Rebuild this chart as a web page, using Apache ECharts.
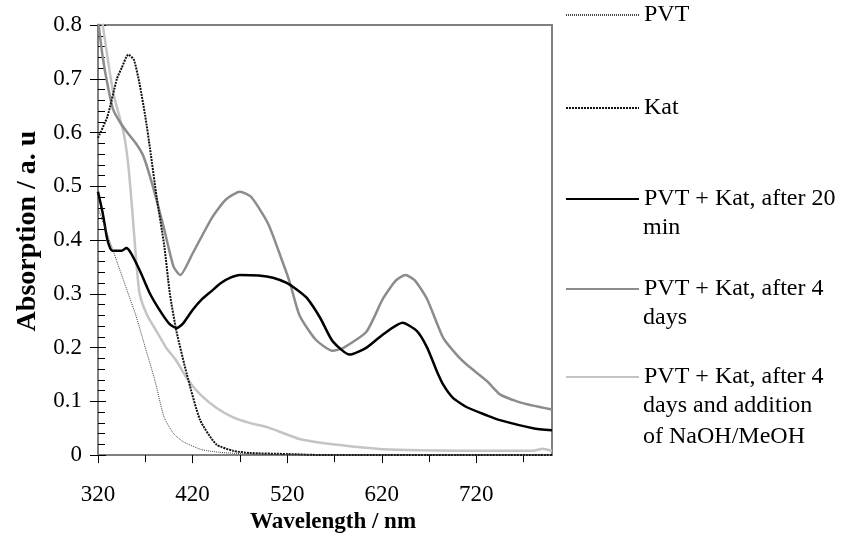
<!DOCTYPE html>
<html>
<head>
<meta charset="utf-8">
<script src="https://cdn.jsdelivr.net/npm/echarts@6/dist/echarts.min.js"></script>
<style>
  html, body { margin: 0; padding: 0; background: #fff; }
  #chart { width: 848px; height: 539px; }
</style>
</head>
<body>
<div id="chart"></div>
<script>
// series names (first legend line) and continuation lines
var seriesNames = [
  'PVT',
  'Kat',
  'PVT + Kat, after 20 min',
  'PVT + Kat, after 4 days',
  'PVT + Kat, after 4 days and addition of NaOH/MeOH'
]
var legendFirstLines = [
  'PVT',
  'Kat',
  'PVT + Kat, after 20',
  'PVT + Kat, after 4',
  'PVT + Kat, after 4'
]
var legendMoreLines = [
  [],
  [],
  ['min'],
  ['days'],
  ['days and addition', 'of NaOH/MeOH']
]

// PVT
var pvtX = [320, 330, 340, 350, 360, 370, 380, 390, 400, 410, 430, 450, 480, 520, 600, 700, 800]
var pvtY = [0.46, 0.41, 0.36, 0.31, 0.26, 0.2, 0.14, 0.07, 0.04, 0.025, 0.01, 0.005, 0.002, 0.001, 0, 0, 0]

// Kat
var katX = [320, 330, 340, 345, 352, 358, 364, 370, 375, 382, 390, 396, 403, 414, 428, 445, 463, 480, 520, 560, 700, 800]
var katY = [0.59, 0.63, 0.7, 0.72, 0.745, 0.735, 0.69, 0.63, 0.57, 0.48, 0.39, 0.3, 0.23, 0.15, 0.065, 0.02, 0.008, 0.004, 0.002, 0, 0, 0]

// PVT + Kat, after 20 min
var min20X = [320, 325, 330, 335, 345, 350, 355, 365, 375, 385, 395, 403, 410, 420, 430, 440, 450, 460, 470, 490, 505, 520, 530, 541, 555, 568, 586, 604, 621, 642, 657, 668, 678, 685, 695, 710, 731, 745, 780, 800]
var min20Y = [0.49, 0.45, 0.4, 0.38, 0.38, 0.385, 0.375, 0.34, 0.3, 0.27, 0.245, 0.236, 0.245, 0.27, 0.29, 0.305, 0.32, 0.33, 0.335, 0.334, 0.33, 0.32, 0.308, 0.292, 0.255, 0.212, 0.187, 0.2, 0.224, 0.246, 0.231, 0.2, 0.157, 0.131, 0.107, 0.089, 0.074, 0.065, 0.05, 0.046]

// PVT + Kat, after 4 days
var days4X = [320, 325, 330, 336, 343, 351, 360, 368, 378, 390, 400, 407, 420, 440, 455, 470, 482, 500, 515, 523, 533, 550, 568, 580, 604, 621, 635, 645, 655, 668, 685, 700, 710, 731, 745, 763, 780, 800]
var days4Y = [0.81, 0.74, 0.69, 0.643, 0.62, 0.6, 0.58, 0.556, 0.5, 0.42, 0.35, 0.335, 0.375, 0.44, 0.475, 0.49, 0.48, 0.43, 0.36, 0.32, 0.26, 0.215, 0.194, 0.2, 0.23, 0.29, 0.325, 0.335, 0.325, 0.29, 0.218, 0.185, 0.168, 0.138, 0.113, 0.1, 0.092, 0.085]

// PVT + Kat, after 4 days and addition of NaOH/MeOH
var naohX = [320, 325, 336, 347, 352, 356, 360, 364, 372, 382, 392, 403, 415, 428, 445, 463, 480, 499, 533, 568, 600, 621, 660, 700, 740, 780, 790, 800]
var naohY = [0.86, 0.8, 0.675, 0.6, 0.54, 0.46, 0.37, 0.3, 0.26, 0.23, 0.2, 0.175, 0.14, 0.113, 0.088, 0.07, 0.06, 0.052, 0.03, 0.02, 0.014, 0.011, 0.009, 0.008, 0.008, 0.008, 0.012, 0.008]

var seriesX = [pvtX, katX, min20X, days4X, naohX]
var seriesY = [pvtY, katY, min20Y, days4Y, naohY]
var lineStyles = [
  { color: '#444', width: 1, type: [1, 1] },
  { color: '#111', width: 2, type: [2, 1] },
  { color: '#000', width: 2.5, type: 'solid' },
  { color: '#8c8c8c', width: 2.5, type: 'solid' },
  { color: '#c4c4c4', width: 2.5, type: 'solid' }
]
var legendCenters = [15, 108, 199, 289, 377]

var font = 'Liberation Serif'
var chart = echarts.init(document.getElementById('chart'))

var series = seriesNames.map(function (name, k) {
  return {
    name: name,
    type: 'line',
    symbol: 'none',
    smooth: 0.2,
    clip: true,
    lineStyle: lineStyles[k],
    itemStyle: { color: lineStyles[k].color },
    data: seriesX[k].map(function (x, i) { return [x, seriesY[k][i]] }),
    z: 5 - k
  }
})

var legends = seriesNames.map(function (name, k) {
  return {
    data: [name],
    left: 565,
    top: legendCenters[k] - 14,
    padding: 0,
    itemWidth: 73,
    itemHeight: 10,
    selectedMode: false,
    itemStyle: { opacity: 0 },
    formatter: function () { return legendFirstLines[k] },
    textStyle: { fontFamily: font, fontSize: 24, color: '#000', lineHeight: 28 }
  }
})

var graphics = []
legendMoreLines.forEach(function (lines, k) {
  lines.forEach(function (txt, j) {
    graphics.push({
      type: 'text',
      left: 643,
      top: legendCenters[k] + 31 * (j + 1) - 14,
      style: { text: txt, font: '24px "' + font + '"', fill: '#000' }
    })
  })
})

var axisFont = { fontFamily: font, fontSize: 23, color: '#000' }

chart.setOption({
  animation: false,
  backgroundColor: '#fff',
  grid: {
    left: 98,
    right: 296,
    top: 25,
    bottom: 81,
    show: true,
    borderColor: '#808080',
    borderWidth: 2
  },
  legend: legends,
  graphic: graphics,
  xAxis: [
    {
      type: 'value',
      min: 320,
      max: 800,
      interval: 100,
      name: 'Wavelength / nm',
      nameLocation: 'middle',
      nameGap: 55,
      nameTextStyle: { fontFamily: font, fontSize: 23, fontWeight: 'bold', color: '#000', padding: [0, 0, 0, 16] },
      axisLine: { show: true, lineStyle: { color: '#808080', width: 2 } },
      axisTick: { show: true, inside: false, length: 8, lineStyle: { color: '#000' } },
      axisLabel: Object.assign({ margin: 28, showMaxLabel: false }, axisFont),
      splitLine: { show: false }
    },
    {
      type: 'value',
      position: 'bottom',
      min: 320,
      max: 800,
      interval: 100,
      axisLine: { show: false },
      axisTick: { show: false },
      minorTick: { show: true, splitNumber: 2, length: 7, lineStyle: { color: '#000' } },
      axisLabel: { show: false },
      splitLine: { show: false }
    }
  ],
  yAxis: [
    {
      type: 'value',
      min: 0,
      max: 0.8,
      interval: 0.1,
      name: 'Absorption / a. u',
      nameLocation: 'middle',
      nameGap: 56,
      nameTextStyle: { fontFamily: font, fontSize: 28, fontWeight: 'bold', color: '#000', padding: [0, 0, 0, 18] },
      axisLine: { show: true, lineStyle: { color: '#808080', width: 2 } },
      axisTick: { show: true, inside: false, length: 8, lineStyle: { color: '#000' } },
      axisLabel: Object.assign({ margin: 16 }, axisFont),
      splitLine: { show: false }
    },
    {
      type: 'value',
      position: 'left',
      min: 0,
      max: 0.8,
      interval: 0.1,
      axisLine: { show: false },
      axisTick: { show: true, inside: true, length: 8, lineStyle: { color: '#000' } },
      minorTick: { show: true, splitNumber: 5, length: 7, lineStyle: { color: '#000' } },
      axisLabel: { show: false },
      splitLine: { show: false }
    }
  ],
  series: series
})
</script>
</body>
</html>
